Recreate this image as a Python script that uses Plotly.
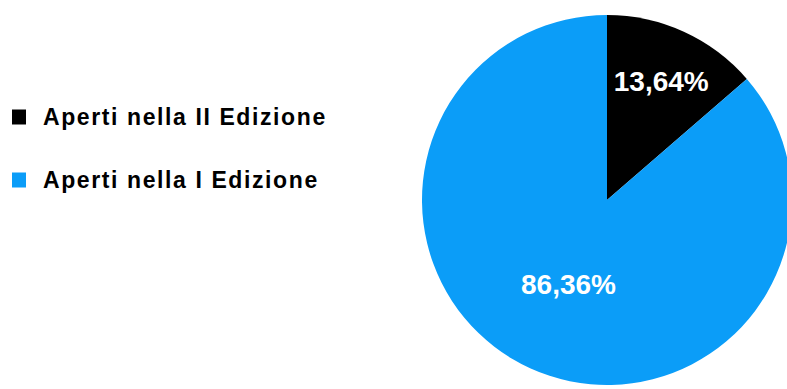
import plotly.graph_objects as go

# Quote dei locali aperti per edizione
categories = ["Aperti nella II Edizione", "Aperti nella I Edizione"]
shares = [13.64, 86.36]
colors = ["#000000", "#0B9DF8"]

W, H = 800, 389

fig = go.Figure(
    go.Pie(
        labels=categories,
        values=shares,
        sort=False,
        direction="clockwise",
        rotation=0,
        marker=dict(colors=colors, line=dict(width=0)),
        texttemplate="<b>%{percent:.2%}</b>",
        textposition="inside",
        insidetextorientation="horizontal",
        textfont=dict(family="Liberation Sans, Arial, sans-serif", size=28, color="white"),
        insidetextfont=dict(family="Liberation Sans, Arial, sans-serif", size=28, color="white"),
        domain=dict(x=[420 / W, 794 / W], y=[4 / H, 374 / H]),
        showlegend=False,
        hoverinfo="label+percent",
    )
)

# Legenda a sinistra: quadrato colorato + etichetta in grassetto
legend_rows = [117, 180]
for name, col, yc in zip(categories, colors, legend_rows):
    fig.add_shape(
        type="rect", xref="paper", yref="paper",
        x0=12 / W, x1=26 / W, y0=1 - (yc + 7.5) / H, y1=1 - (yc - 7.5) / H,
        fillcolor=col, line=dict(width=0),
    )
    fig.add_annotation(
        x=41 / W, y=1 - yc / H, xref="paper", yref="paper",
        xanchor="left", yanchor="middle", showarrow=False,
        text=f"<b><span style='letter-spacing:1.6px'>{name}</span></b>",
        font=dict(family="Liberation Sans, Arial, sans-serif", size=23, color="black"),
    )

fig.update_layout(
    width=W, height=H,
    margin=dict(l=0, r=0, t=0, b=0),
    paper_bgcolor="white", plot_bgcolor="white",
    separators=",.",
)

fig.write_html(
    "out.html",
    post_script="document.documentElement.style.overflow='hidden';document.body.style.overflow='hidden';document.body.style.margin='0';",
)
